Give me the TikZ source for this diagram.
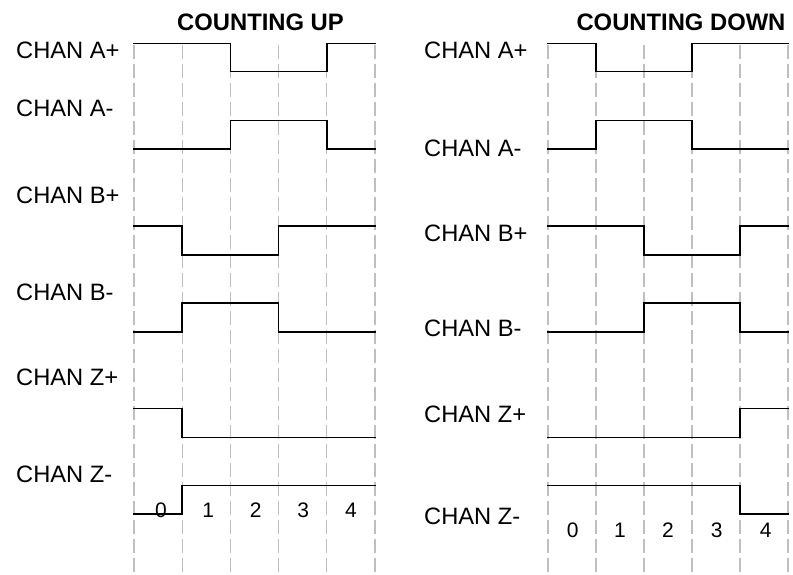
\documentclass[tikz,border=0pt]{standalone}
\usepackage{fontspec}
\setmainfont{Liberation Sans}
\begin{document}
\begin{tikzpicture}[x=1pt,y=-1pt,
  lbl/.style={anchor=west,inner sep=0pt,font=\fontsize{23.7}{26}\selectfont},
  ttl/.style={inner sep=0pt,font=\fontsize{23.8}{26}\selectfont\bfseries},
  num/.style={inner sep=0pt,font=\fontsize{21}{24}\selectfont},
  grid/.style={draw=black!25,line width=1.3pt,dash pattern=on 14pt off 5pt},
  sig/.style={draw=black,line width=1.6pt,line cap=rect,line join=miter}]
\useasboundingbox (0,0) rectangle (793,575);
% grids
\foreach \x in {134,182.2,230.4,278.6,326.8,375}{\draw[grid] (\x,45) -- (\x,575);}
\foreach \x in {548,596,644,692,740,788}{\draw[grid] (\x,45) -- (\x,575);}
% titles
\node[ttl] (tup) at (260.5,22) {COUNTING UP};
\node[ttl] (tdn) at (681,22) {COUNTING DOWN};
% left labels
\node[lbl] (la1) at (16,50) {CHAN A+};
\node[lbl] (la2) at (16,108) {CHAN A-};
\node[lbl] (lb1) at (16,195) {CHAN B+};
\node[lbl] (lb2) at (16,292) {CHAN B-};
\node[lbl] (lz1) at (16,377) {CHAN Z+};
\node[lbl] (lz2) at (16,474) {CHAN Z-};
% right labels
\node[lbl] (ra1) at (424,50) {CHAN A+};
\node[lbl] (ra2) at (424,148) {CHAN A-};
\node[lbl] (rb1) at (424,233) {CHAN B+};
\node[lbl] (rb2) at (424,328) {CHAN B-};
\node[lbl] (rz1) at (424,414) {CHAN Z+};
\node[lbl] (rz2) at (424,516) {CHAN Z-};
% left signals
\draw[sig] (134,43.5) -- (230.4,43.5) -- (230.4,71.5) -- (326.8,71.5) -- (326.8,43.5) -- (375,43.5);
\draw[sig] (134,149.3) -- (230.4,149.3) -- (230.4,120.7) -- (326.8,120.7) -- (326.8,149.3) -- (375,149.3);
\draw[sig] (134,225.7) -- (182.2,225.7) -- (182.2,254.7) -- (278.6,254.7) -- (278.6,225.7) -- (375,225.7);
\draw[sig] (134,331.7) -- (182.2,331.7) -- (182.2,302.7) -- (278.6,302.7) -- (278.6,331.7) -- (375,331.7);
\draw[sig] (134,408.3) -- (182.2,408.3) -- (182.2,437.3) -- (375,437.3);
\draw[sig] (134,514) -- (182.2,514) -- (182.2,485.3) -- (375,485.3);
% right signals
\draw[sig] (548,43.5) -- (596,43.5) -- (596,71.5) -- (692,71.5) -- (692,43.5) -- (788,43.5);
\draw[sig] (548,149.3) -- (596,149.3) -- (596,120.7) -- (692,120.7) -- (692,149.3) -- (788,149.3);
\draw[sig] (548,225.7) -- (644,225.7) -- (644,254.7) -- (740,254.7) -- (740,225.7) -- (788,225.7);
\draw[sig] (548,331.7) -- (644,331.7) -- (644,302.7) -- (740,302.7) -- (740,331.7) -- (788,331.7);
\draw[sig] (548,437.3) -- (740,437.3) -- (740,408.3) -- (788,408.3);
\draw[sig] (548,485.3) -- (740,485.3) -- (740,514) -- (788,514);
% numbers
\node[num] (ln0) at (161,510) {0};
\node[num] (ln1) at (208.3,510) {1};
\node[num] (ln2) at (255.7,510) {2};
\node[num] (ln3) at (303.3,510) {3};
\node[num] (ln4) at (351,510) {4};
\node[num] (rn0) at (572.7,530) {0};
\node[num] (rn1) at (620,530) {1};
\node[num] (rn2) at (668,530) {2};
\node[num] (rn3) at (716.7,530) {3};
\node[num] (rn4) at (765.7,530) {4};
\end{tikzpicture}
\end{document}
